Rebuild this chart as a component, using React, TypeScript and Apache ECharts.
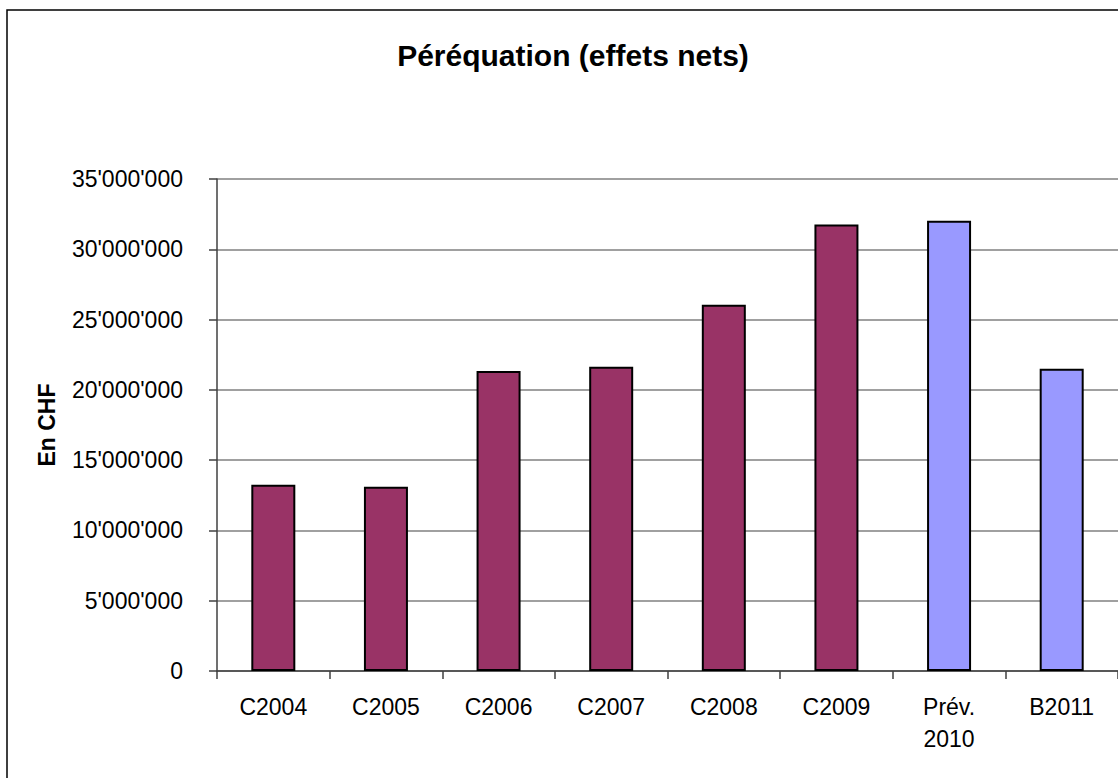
import React, { useEffect, useRef } from "react";
import * as echarts from "echarts";

const categories = ["C2004", "C2005", "C2006", "C2007", "C2008", "C2009", "Prév.\n2010", "B2011"];
const values = [13250000, 13100000, 21350000, 21640000, 26050000, 31770000, 32030000, 21500000];
const barColors = ["#993366", "#993366", "#993366", "#993366", "#993366", "#993366", "#9999FF", "#9999FF"];
const yTicks = [0, 5000000, 10000000, 15000000, 20000000, 25000000, 30000000, 35000000];
const titleText = "Péréquation (effets nets)";
const yAxisName = "En CHF";

const fmt = (v: number) => String(Math.round(v)).replace(/\B(?=(\d{3})+(?!\d))/g, "'");

export default function App() {
  const ref = useRef<HTMLDivElement>(null);
  useEffect(() => {
    document.body.style.margin = "0";
    document.body.style.overflow = "hidden";
    const chart = echarts.init(ref.current!, null, { renderer: "svg" });
    const font = "'Liberation Sans', Arial, sans-serif";
    chart.setOption({
      animation: false,
      backgroundColor: "#ffffff",
      textStyle: { fontFamily: font },
      graphic: [
        {
          type: "rect",
          shape: { x: 7, y: 10, width: 1300, height: 1000 },
          style: { fill: "none", stroke: "#000000", lineWidth: 1.5 },
          z: 100,
        },
        {
          type: "text",
          x: 573,
          y: 55,
          style: {
            text: titleText,
            fontFamily: font,
            fontSize: 30,
            fontWeight: "bold",
            fill: "#000000",
            align: "center",
            verticalAlign: "middle",
          },
        },
        {
          type: "text",
          x: 47,
          y: 425,
          rotation: Math.PI / 2,
          style: {
            text: yAxisName,
            fontFamily: font,
            fontSize: 23,
            fontWeight: "bold",
            fill: "#000000",
            align: "center",
            verticalAlign: "middle",
          },
        },
      ],
      grid: { left: 217, top: 179, right: -2, bottom: 778 - 671, containLabel: false },
      xAxis: {
        type: "category",
        data: categories,
        boundaryGap: true,
        axisLine: { show: true, lineStyle: { color: "#404040", width: 1.5 } },
        axisTick: { show: true, length: 8, lineStyle: { color: "#404040", width: 1.5 } },
        axisLabel: {
          color: "#000000",
          fontSize: 23,
          fontFamily: font,
          margin: 20,
          lineHeight: 32,
          interval: 0,
        },
      },
      yAxis: {
        type: "value",
        min: yTicks[0],
        max: yTicks[yTicks.length - 1],
        interval: 5000000,
        axisLine: { show: true, lineStyle: { color: "#404040", width: 1.5 } },
        axisTick: { show: true, length: 8, lineStyle: { color: "#404040", width: 1.5 } },
        splitLine: { show: true, lineStyle: { color: "#808080", width: 1.5 } },
        axisLabel: {
          color: "#000000",
          fontSize: 23,
          fontFamily: font,
          margin: 34,
          formatter: (v: number) => fmt(v),
        },
      },
      series: [
        {
          type: "bar",
          barWidth: 44,
          data: values.map((v, i) => ({
            value: v,
            itemStyle: { color: barColors[i], borderColor: "#000000", borderWidth: 2 },
          })),
        },
      ],
    });
    return () => chart.dispose();
  }, []);
  return <div ref={ref} style={{ position: "absolute", left: 0, top: 0, width: 1118, height: 778 }} />;
}
